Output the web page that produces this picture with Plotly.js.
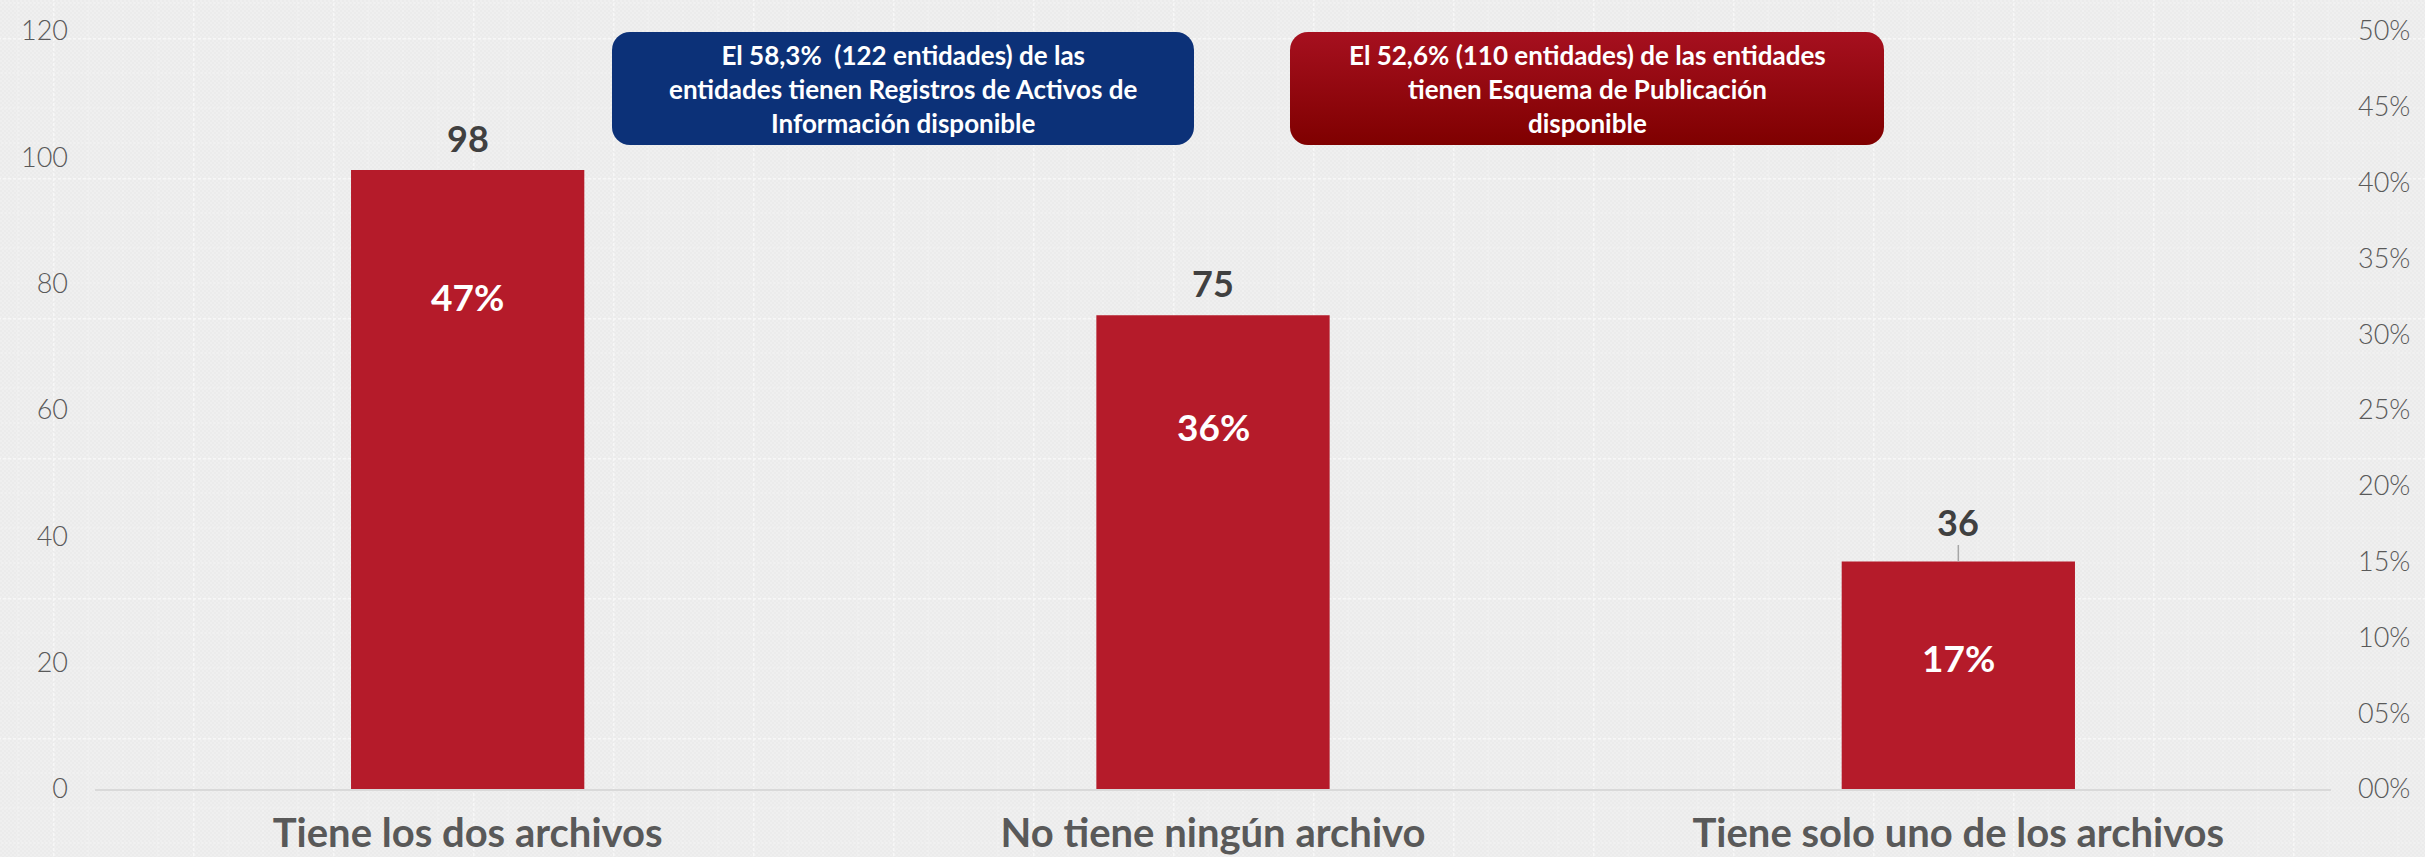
<!DOCTYPE html>
<html>
<head>
<meta charset="utf-8">
<script src="https://cdn.plot.ly/plotly-3.0.1.min.js"></script>
<style>
  html, body { margin: 0; padding: 0; background: #ebebeb; }
  #chart { width: 2425px; height: 857px; }
</style>
</head>
<body>
<div id="chart"></div>
<script>
// ---- data ----
const categories = ['Tiene los dos archivos', 'No tiene ningún archivo', 'Tiene solo uno de los archivos'];
const counts = [98, 75, 36];
const percents = [47, 36, 17];
const leftTickVals = [0, 20, 40, 60, 80, 100, 120];
const rightTickVals = [0, 0.05, 0.10, 0.15, 0.20, 0.25, 0.30, 0.35, 0.40, 0.45, 0.50];
const rightTickText = ['00%', '05%', '10%', '15%', '20%', '25%', '30%', '35%', '40%', '45%', '50%'];
const boxTexts = [
  'El 58,3%  (122 entidades) de las<br>entidades tienen Registros de Activos de<br>Información disponible',
  'El 52,6% (110 entidades) de las entidades<br>tienen Esquema de Publicación<br>disponible'
];

// ---- layout helpers (pixel geometry) ----
const W = 2425, H = 857;
const M = { l: 95, r: 94, t: 31, b: 68 };
const PW = W - M.l - M.r, PH = H - M.t - M.b;
const px2x = p => (p - M.l) / PW;
const py2y = p => (H - M.b - p) / PH;

const FONT = 'Lato, "Open Sans", sans-serif';
const pctShift = [-127, -111, -96];

function roundRectSVG(w, h, r, fillDef, fill) {
  return 'data:image/svg+xml;charset=utf-8,' + encodeURIComponent(
    '<svg xmlns="http://www.w3.org/2000/svg" width="' + w + '" height="' + h + '" viewBox="0 0 ' + w + ' ' + h + '" preserveAspectRatio="none">' +
    '<defs>' + fillDef + '</defs>' +
    '<rect x="0" y="0" width="' + w + '" height="' + h + '" rx="' + r + '" ry="' + r + '" fill="' + fill + '"/></svg>');
}

function bgPatternSVG() {
  return 'data:image/svg+xml;charset=utf-8,' + encodeURIComponent(
    '<svg xmlns="http://www.w3.org/2000/svg" width="' + W + '" height="' + H + '" viewBox="0 0 ' + W + ' ' + H + '" preserveAspectRatio="none">' +
    '<defs>' +
    '<pattern id="fine" width="4" height="4" patternUnits="userSpaceOnUse">' +
    '<rect width="4" height="4" fill="#ebebeb"/><rect width="2" height="2" fill="#efefef"/><rect x="2" y="2" width="2" height="2" fill="#efefef"/></pattern>' +
    '<pattern id="grid" x="53" y="38" width="140" height="140" patternUnits="userSpaceOnUse">' +
    '<line x1="0" y1="0.5" x2="140" y2="0.5" stroke="#f7f7f7" stroke-width="2" stroke-dasharray="3,2"/>' +
    '<line x1="0.5" y1="0" x2="0.5" y2="140" stroke="#f7f7f7" stroke-width="2" stroke-dasharray="3,2"/>' +
    '<line x1="0" y1="35" x2="140" y2="35" stroke="#f3f3f3" stroke-width="1" stroke-dasharray="2,2"/>' +
    '<line x1="0" y1="70" x2="140" y2="70" stroke="#f3f3f3" stroke-width="1" stroke-dasharray="2,2"/>' +
    '<line x1="0" y1="105" x2="140" y2="105" stroke="#f3f3f3" stroke-width="1" stroke-dasharray="2,2"/>' +
    '<line x1="35" y1="0" x2="35" y2="140" stroke="#f3f3f3" stroke-width="1" stroke-dasharray="2,2"/>' +
    '<line x1="70" y1="0" x2="70" y2="140" stroke="#f3f3f3" stroke-width="1" stroke-dasharray="2,2"/>' +
    '<line x1="105" y1="0" x2="105" y2="140" stroke="#f3f3f3" stroke-width="1" stroke-dasharray="2,2"/>' +
    '</pattern></defs>' +
    '<rect width="' + W + '" height="' + H + '" fill="url(#fine)"/>' +
    '<rect width="' + W + '" height="' + H + '" fill="url(#grid)"/></svg>');
}

const blueBox = { x0: 612, x1: 1194, y0: 32, y1: 145 };
const redBox = { x0: 1290, x1: 1884, y0: 32, y1: 145 };

const blueSrc = roundRectSVG(blueBox.x1 - blueBox.x0, blueBox.y1 - blueBox.y0, 18, '', '#0c3178');
const redSrc = roundRectSVG(redBox.x1 - redBox.x0, redBox.y1 - redBox.y0, 18,
  '<linearGradient id="g" x1="0" y1="0" x2="0" y2="1"><stop offset="0" stop-color="#a6101f"/><stop offset="1" stop-color="#7f0000"/></linearGradient>',
  'url(#g)');

function boxImage(b, src) {
  return {
    source: src, xref: 'paper', yref: 'paper',
    x: px2x(b.x0), y: py2y(b.y0),
    sizex: (b.x1 - b.x0) / PW, sizey: (b.y1 - b.y0) / PH,
    xanchor: 'left', yanchor: 'top', sizing: 'stretch', layer: 'below'
  };
}

// ---- traces ----
const bars = {
  type: 'bar',
  x: categories,
  y: counts,
  marker: { color: '#b51b2a' },
  hoverinfo: 'skip',
  showlegend: false
};
const pctAxisTrace = {
  type: 'scatter',
  mode: 'markers',
  x: categories,
  y: percents.map(v => v / 100),
  yaxis: 'y2',
  marker: { opacity: 0, size: 1 },
  hoverinfo: 'skip',
  showlegend: false
};

// ---- annotations ----
const annotations = [];
categories.forEach((c, i) => {
  const isLast = i === categories.length - 1;
  annotations.push({
    x: c, y: counts[i], xref: 'x', yref: 'y',
    text: String(counts[i]),
    font: { family: FONT, size: 36, color: '#404040', weight: 700 },
    showarrow: isLast,
    ax: 0, ay: -40,
    arrowhead: 0, arrowwidth: 1.5, arrowcolor: '#a6a6a6', standoff: 0,
    yshift: isLast ? 0 : 32
  });
  annotations.push({
    x: c, y: counts[i], xref: 'x', yref: 'y',
    text: percents[i] + '%',
    font: { family: FONT, size: 37, color: '#ffffff', weight: 700 },
    showarrow: false,
    yshift: pctShift[i]
  });
});
[blueBox, redBox].forEach((b, i) => {
  annotations.push({
    xref: 'paper', yref: 'paper',
    x: px2x((b.x0 + b.x1) / 2), y: py2y((b.y0 + b.y1) / 2),
    xanchor: 'center', yanchor: 'middle',
    text: boxTexts[i],
    showarrow: false,
    align: 'center',
    font: { family: FONT, size: 26, color: '#ffffff', weight: 700 }
  });
});

const layout = {
  width: W, height: H,
  margin: M,
  paper_bgcolor: '#ebebeb',
  plot_bgcolor: 'rgba(0,0,0,0)',
  bargap: 0.687,
  showlegend: false,
  font: { family: FONT, color: '#595959' },
  xaxis: {
    type: 'category',
    showgrid: false, zeroline: false,
    showline: true, linecolor: '#d9d9d9', linewidth: 2,
    ticks: '',
    ticklabelstandoff: 8,
    tickfont: { family: FONT, size: 40, color: '#595959', weight: 700 },
    fixedrange: true
  },
  yaxis: {
    range: [0, 120],
    tickvals: leftTickVals,
    showgrid: false, zeroline: false, showline: false,
    ticks: '',
    ticklabelstandoff: 26,
    tickfont: { family: FONT, size: 27, color: '#595959', weight: 300 },
    fixedrange: true
  },
  yaxis2: {
    overlaying: 'y', side: 'right',
    range: [0, 0.5],
    tickvals: rightTickVals, ticktext: rightTickText,
    showgrid: false, zeroline: false, showline: false,
    ticks: '',
    ticklabelstandoff: 26,
    tickfont: { family: FONT, size: 27, color: '#595959', weight: 300 },
    fixedrange: true
  },
  images: [
    {
      source: bgPatternSVG(), xref: 'paper', yref: 'paper',
      x: px2x(0), y: py2y(0), sizex: W / PW, sizey: H / PH,
      xanchor: 'left', yanchor: 'top', sizing: 'stretch', layer: 'below'
    },
    boxImage(blueBox, blueSrc),
    boxImage(redBox, redSrc)
  ],
  annotations: annotations
};

Plotly.newPlot('chart', [bars, pctAxisTrace], layout, { displayModeBar: false, staticPlot: true });
</script>
</body>
</html>
